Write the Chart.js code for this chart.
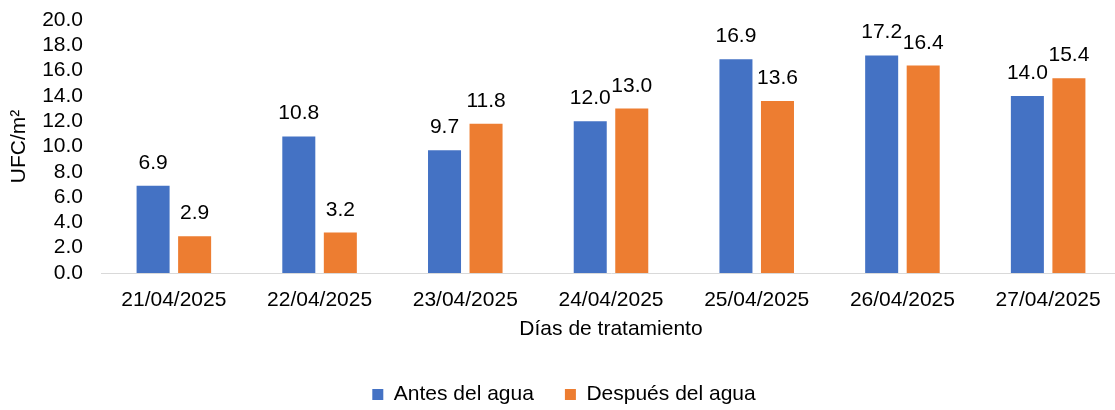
<!DOCTYPE html>
<html>
<head>
<meta charset="utf-8">
<script src="https://cdn.jsdelivr.net/npm/chart.js@4/dist/chart.umd.min.js"></script>
<style>
  html, body { margin: 0; background: #fff; overflow: hidden; }
  #wrap { width: 1132px; height: 415px; }
</style>
</head>
<body>
<div id="wrap"><canvas id="ufcChart"></canvas></div>
<script>
// Data
const days = ['21/04/2025', '22/04/2025', '23/04/2025', '24/04/2025', '25/04/2025', '26/04/2025', '27/04/2025'];
const antes = [6.9, 10.8, 9.7, 12.0, 16.9, 17.2, 14.0];
const despues = [2.9, 3.2, 11.8, 13.0, 13.6, 16.4, 15.4];

// Simple plugin to write the value above each bar
const valueLabels = {
  id: 'valueLabels',
  afterDatasetsDraw(chart) {
    const ctx = chart.ctx;
    ctx.save();
    ctx.font = '21px "Liberation Sans", Arial, sans-serif';
    ctx.fillStyle = '#000';
    ctx.textAlign = 'center';
    ctx.textBaseline = 'alphabetic';
    chart.data.datasets.forEach(function (ds, i) {
      chart.getDatasetMeta(i).data.forEach(function (bar, j) {
        ctx.fillText(ds.data[j].toFixed(1), bar.x, bar.y - 17);
      });
    });
    ctx.restore();
  }
};

Chart.defaults.font.family = '"Liberation Sans", Arial, sans-serif';
Chart.defaults.font.size = 21;
Chart.defaults.color = '#000';

new Chart(document.getElementById('ufcChart').getContext('2d'), {
  type: 'bar',
  data: {
    labels: days,
    datasets: [
      { label: 'Antes del agua', data: antes, backgroundColor: '#4472C4' },
      { label: 'Después del agua', data: despues, backgroundColor: '#ED7D31' }
    ]
  },
  options: {
    responsive: true,
    maintainAspectRatio: false,
    animation: false,
    layout: { padding: { left: 7, right: 11, top: 20, bottom: 0 } },
    datasets: { bar: { categoryPercentage: 0.57, barPercentage: 0.795 } },
    plugins: {
      legend: {
        position: 'bottom',
        labels: { boxWidth: 11, boxHeight: 11, padding: 31 }
      },
      tooltip: { enabled: false }
    },
    scales: {
      x: {
        grid: { display: false, drawTicks: false },
        border: { color: '#D9D9D9', width: 1 },
        ticks: { padding: 15, maxRotation: 0, autoSkip: false },
        title: { display: true, text: 'Días de tratamiento', padding: { top: 0, bottom: 11 } },
        afterFit: function (scale) { scale.height = 80; }
      },
      y: {
        min: 0,
        max: 20,
        grid: { display: false, drawTicks: false },
        border: { display: false },
        ticks: { stepSize: 2, padding: 18, autoSkip: false, callback: v => v.toFixed(1) },
        title: { display: true, text: 'UFC/m²', padding: { top: 0, bottom: 0 } },
        afterFit: function (scale) {
          scale.width = 94;
          scale.paddingTop = 0;
          scale.paddingBottom = 0;
        }
      }
    }
  },
  plugins: [valueLabels]
});
</script>
</body>
</html>
